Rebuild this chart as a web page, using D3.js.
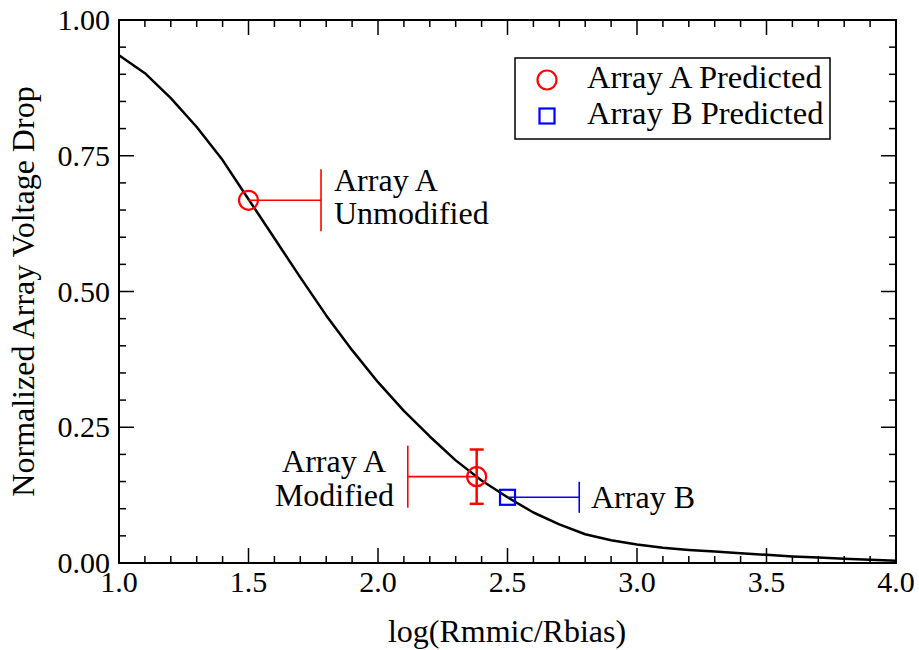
<!DOCTYPE html>
<html><head><meta charset="utf-8">
<script src="https://cdn.jsdelivr.net/npm/d3@7"></script>
</head>
<body><svg id="chart" width="919" height="650"></svg>
<script>
// ---- data ----
const curveX = [1.0,1.1,1.2,1.3,1.4,1.5,1.6,1.7,1.8,1.9,2.0,2.1,2.2,2.3,2.4,2.5,2.6,2.7,2.8,2.9,3.0,3.1,3.2,3.3,3.4,3.5,3.6,3.7,3.8,3.9,4.0];
const curveY = [0.935,0.902,0.856,0.803,0.742,0.670,0.598,0.526,0.456,0.392,0.333,0.280,0.233,0.189,0.152,0.121,0.093,0.071,0.053,0.042,0.034,0.028,0.024,0.021,0.018,0.015,0.012,0.010,0.008,0.006,0.004];
const arrayAX = [1.5, 2.381];
const arrayAY = [0.668, 0.159];
const arrayAXLo = [1.5, 2.115];
const arrayAXHi = [1.78, 2.381];
const arrayAYLo = [null, 0.109];
const arrayAYHi = [null, 0.209];
const arrayBX = [2.5];
const arrayBY = [0.121];
const arrayBXLo = [2.5];
const arrayBXHi = [2.777];
const xTicks = [1.0,1.5,2.0,2.5,3.0,3.5,4.0];
const yTicks = [0.00,0.25,0.50,0.75,1.00];
const legendLabels = ["Array A Predicted","Array B Predicted"];
const xTitle = "log(Rmmic/Rbias)";
const yTitle = "Normalized Array Voltage Drop";

// ---- layout ----
const FONT = '"Liberation Serif", Tinos, FreeSerif, monospace';
const L=119, R=896, T=20, B=563;
const svg = d3.select("#chart").style("position","absolute").style("left","0px").style("top","0px");
const x = d3.scaleLinear().domain([1,4]).range([L,R]);
const y = d3.scaleLinear().domain([0,1]).range([B,T]);
const xMinor = d3.range(10,41).map(d=>d/10);
const yMinor = d3.range(0,21).map(d=>d/20);

// ticks (inward, all sides)
const tk = svg.append("g").attr("stroke","#000").attr("stroke-width",1.5);
xMinor.forEach(v=>{
  const major = xTicks.some(t=>Math.abs(t-v)<1e-9);
  const len = major?15:7;
  tk.append("line").attr("x1",x(v)).attr("x2",x(v)).attr("y1",B).attr("y2",B-len);
  tk.append("line").attr("x1",x(v)).attr("x2",x(v)).attr("y1",T).attr("y2",T+len);
});
yMinor.forEach(v=>{
  const major = yTicks.some(t=>Math.abs(t-v)<1e-9);
  const len = major?15:7;
  tk.append("line").attr("y1",y(v)).attr("y2",y(v)).attr("x1",L).attr("x2",L+len);
  tk.append("line").attr("y1",y(v)).attr("y2",y(v)).attr("x1",R).attr("x2",R-len);
});

function txt(sel, size){
  return sel.attr("font-size",size).attr("font-family",FONT).style("font-family",FONT);
}

// tick labels
xTicks.forEach(d=>{
  txt(svg.append("text").attr("x",x(d)).attr("y",592).attr("text-anchor","middle"),30).text(d3.format(".1f")(d));
});
yTicks.forEach(d=>{
  txt(svg.append("text").attr("x",110).attr("y",y(d)+10).attr("text-anchor","end"),30).text(d3.format(".2f")(d));
});

// axis titles
txt(svg.append("text").attr("x",507).attr("y",642).attr("text-anchor","middle"),32).text(xTitle);
txt(svg.append("text").attr("transform",`translate(34,${(T+B)/2}) rotate(-90)`)
  .attr("text-anchor","middle"),32).text(yTitle);

// curve
const line = d3.line().x(d=>x(d[0])).y(d=>y(d[1]));
svg.append("path").datum(curveX.map((v,i)=>[v,curveY[i]]))
  .attr("d",line).attr("fill","none").attr("stroke","#000").attr("stroke-width",2.5)
  .attr("stroke-linejoin","round");

// error bars A
const red="#ff0000", blue="#0000ff";
const capH = [31,31];
arrayAX.forEach((v,i)=>{
  const g = svg.append("g").attr("stroke",red).attr("stroke-width",1.6);
  g.append("line").attr("x1",x(arrayAXLo[i])).attr("x2",x(arrayAXHi[i]))
    .attr("y1",y(arrayAY[i])).attr("y2",y(arrayAY[i]));
  const capX = arrayAXHi[i]!==v ? arrayAXHi[i] : arrayAXLo[i];
  g.append("line").attr("x1",x(capX)).attr("x2",x(capX))
    .attr("y1",y(arrayAY[i])-capH[i]).attr("y2",y(arrayAY[i])+capH[i]);
  if(arrayAYLo[i]!==null){
    const gv = svg.append("g").attr("stroke",red).attr("stroke-width",2.5);
    gv.append("line").attr("x1",x(v)).attr("x2",x(v)).attr("y1",y(arrayAYLo[i])).attr("y2",y(arrayAYHi[i]));
    [arrayAYLo[i],arrayAYHi[i]].forEach(e=>{
      gv.append("line").attr("x1",x(v)-7).attr("x2",x(v)+7).attr("y1",y(e)).attr("y2",y(e));
    });
  }
  svg.append("circle").attr("cx",x(v)).attr("cy",y(arrayAY[i])).attr("r",9.5)
    .attr("fill","none").attr("stroke",red).attr("stroke-width",2.2);
});
// error bar B
arrayBX.forEach((v,i)=>{
  const g = svg.append("g").attr("stroke",blue).attr("stroke-width",1.6);
  g.append("line").attr("x1",x(arrayBXLo[i])).attr("x2",x(arrayBXHi[i]))
    .attr("y1",y(arrayBY[i])).attr("y2",y(arrayBY[i]));
  g.append("line").attr("x1",x(arrayBXHi[i])).attr("x2",x(arrayBXHi[i]))
    .attr("y1",y(arrayBY[i])-15.5).attr("y2",y(arrayBY[i])+15.5);
  svg.append("rect").attr("x",x(v)-7.5).attr("y",y(arrayBY[i])-7.5).attr("width",15).attr("height",15)
    .attr("fill","none").attr("stroke",blue).attr("stroke-width",2.2);
});

// annotations
function annText(tx,ty,anchor,s){
  txt(svg.append("text").attr("x",tx).attr("y",ty).attr("text-anchor",anchor),32).text(s);
}
annText(334,191,"start","Array A");
annText(334,224,"start","Unmodified");
annText(386,472,"end","Array A");
annText(394,506,"end","Modified");
annText(591,508,"start","Array B");

// frame
svg.append("rect").attr("x",L).attr("y",T).attr("width",R-L).attr("height",B-T)
  .attr("fill","none").attr("stroke","#000").attr("stroke-width",2);

// legend
svg.append("rect").attr("x",515).attr("y",58).attr("width",315).attr("height",81)
  .attr("fill","#fff").attr("stroke","#000").attr("stroke-width",1.5);
svg.append("circle").attr("cx",547).attr("cy",80).attr("r",9.5).attr("fill","none").attr("stroke",red).attr("stroke-width",2.2);
svg.append("rect").attr("x",547-7.5).attr("y",116-7.5).attr("width",15).attr("height",15).attr("fill","none").attr("stroke",blue).attr("stroke-width",2.2);
legendLabels.forEach((d,i)=>{
  txt(svg.append("text").attr("x",587).attr("y",[88,124][i]),32.5).text(d);
});
</script></body></html>
